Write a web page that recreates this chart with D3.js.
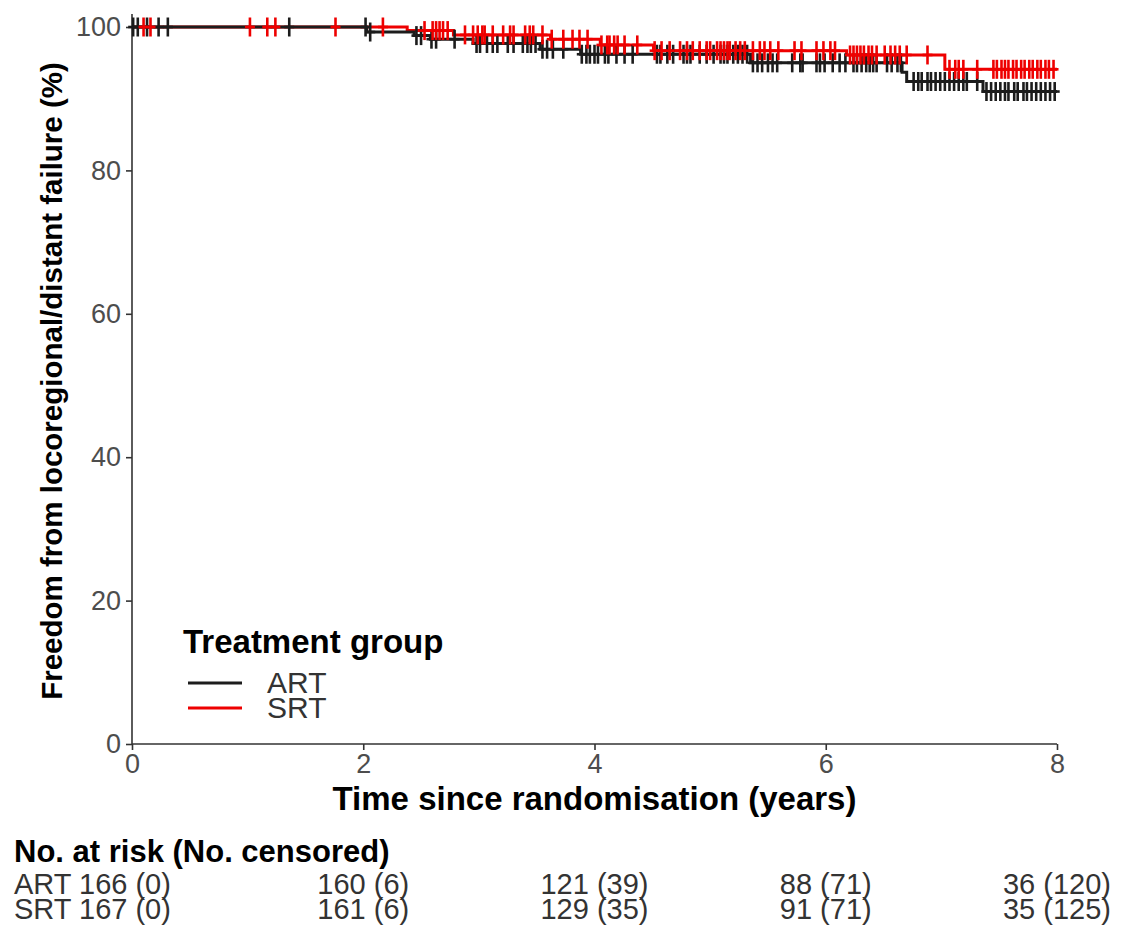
<!DOCTYPE html>
<html>
<head>
<meta charset="utf-8">
<script src="https://cdn.jsdelivr.net/npm/d3@7"></script>
<style>
  html, body { margin: 0; padding: 0; background: #ffffff; }
  svg { display: block; }
  text { font-family: "Liberation Sans", Arial, Helvetica, sans-serif; }
</style>
</head>
<body>
<svg id="chart" width="1121" height="938"></svg>
<script>
// Kaplan-Meier estimates: step times (years) and survival (%) after each step
const artTimes    = [0, 2.03, 2.44, 2.58, 2.95, 3.53, 3.88, 5.35, 6.66, 6.70, 7.36];
const artSurvival = [100, 99.3, 98.8, 98.3, 97.7, 96.9, 96.2, 95.0, 93.7, 92.4, 91.0];
const srtTimes    = [0, 2.38, 2.78, 3.62, 4.05, 4.51, 6.18, 7.03];
const srtSurvival = [100, 99.5, 98.9, 98.3, 97.5, 96.7, 96.1, 94.1];

// Censoring times (years)
const artCensored = [0.01, 0.05, 0.13, 0.23, 0.31, 1.36,
  2.02, 2.06, 2.46, 2.50, 2.59, 2.63, 2.79, 2.98, 3.01, 3.07, 3.12, 3.16, 3.25, 3.30,
  3.38, 3.42, 3.45, 3.49, 3.55, 3.59, 3.64, 3.73, 3.89, 3.93, 3.96,
  4.00, 4.03, 4.09, 4.12, 4.19, 4.26, 4.33, 4.54, 4.57, 4.63, 4.68, 4.77, 4.80, 4.83,
  4.91, 4.97, 5.03, 5.09, 5.12, 5.15, 5.20, 5.24, 5.28, 5.32, 5.37, 5.41, 5.45, 5.50,
  5.54, 5.58, 5.71, 5.78, 5.80, 5.92, 5.95, 5.99,
  6.06, 6.12, 6.17, 6.24, 6.27, 6.31, 6.35, 6.38, 6.41, 6.44, 6.53, 6.57, 6.62, 6.65,
  6.76, 6.80, 6.83, 6.88, 6.91, 6.95, 6.99, 7.03, 7.07, 7.11, 7.15, 7.19, 7.22, 7.31,
  7.39, 7.43, 7.47, 7.51, 7.55, 7.58, 7.63, 7.66, 7.71, 7.74, 7.78, 7.82, 7.86, 7.90,
  7.94, 7.98];
const srtCensored = [0.10, 0.16, 1.02, 1.17, 1.24, 1.76,
  2.17, 2.53, 2.60, 2.63, 2.66, 2.69, 2.73, 2.88, 2.95, 2.99, 3.03, 3.05, 3.12, 3.21,
  3.27, 3.30, 3.40, 3.44, 3.47, 3.55, 3.63, 3.73, 3.81, 3.87, 3.94,
  4.06, 4.11, 4.13, 4.17, 4.20, 4.26, 4.37, 4.52, 4.58, 4.65, 4.74, 4.80, 4.85, 4.91,
  4.97, 5.00, 5.06, 5.09, 5.12, 5.15, 5.17, 5.22, 5.26, 5.30, 5.37, 5.43, 5.47, 5.52,
  5.59, 5.73, 5.79, 5.92, 5.98, 6.04,
  6.08, 6.21, 6.24, 6.27, 6.30, 6.33, 6.37, 6.40, 6.44, 6.51, 6.56, 6.60, 6.64, 6.70,
  6.88, 7.07, 7.12, 7.15, 7.19, 7.31, 7.45, 7.48, 7.52, 7.55, 7.58, 7.62, 7.65, 7.69,
  7.72, 7.76, 7.79, 7.83, 7.86, 7.90, 7.93, 7.97];

// Axes
const xTicks = [0, 2, 4, 6, 8];
const yTicks = [0, 20, 40, 60, 80, 100];
const maxYears = 8;

// Legend and risk table
const groups = ["ART", "SRT"];
const groupColors = ["#1c1c1c", "#ee0000"];
const artAtRisk = [166, 160, 121, 88, 36];
const artCensCum = [0, 6, 39, 71, 120];
const srtAtRisk = [167, 161, 129, 91, 35];
const srtCensCum = [0, 6, 35, 71, 125];

const svg = d3.select("#chart");
const x = d3.scaleLinear().domain([0, maxYears]).range([132, 1057]);
const y = d3.scaleLinear().domain([0, 100]).range([744, 27]);

// Axis lines and ticks
const axisColor = "#333333";
const tickText = "#4d4d4d";
svg.append("line").attr("x1", x(0)).attr("x2", x(0)).attr("y1", 14).attr("y2", y(0))
  .attr("stroke", axisColor).attr("stroke-width", 1.6);
svg.append("line").attr("x1", x(0)).attr("x2", x(maxYears)).attr("y1", y(0)).attr("y2", y(0))
  .attr("stroke", axisColor).attr("stroke-width", 1.6);

const yAxis = d3.axisLeft(y).tickValues(yTicks).tickSize(6).tickPadding(5);
const gy = svg.append("g").attr("transform", `translate(${x(0)},0)`).call(yAxis);
gy.select(".domain").remove();
gy.selectAll("line").attr("stroke", axisColor).attr("stroke-width", 1.6);
gy.selectAll("text").attr("font-size", 27).attr("fill", tickText)
  .attr("font-family", "Liberation Sans, Arial, sans-serif");

const xAxis = d3.axisBottom(x).tickValues(xTicks).tickSize(6).tickPadding(4);
const gx = svg.append("g").attr("transform", `translate(0,${y(0)})`).call(xAxis);
gx.select(".domain").remove();
gx.selectAll("line").attr("stroke", axisColor).attr("stroke-width", 1.6);
gx.selectAll("text").attr("font-size", 27).attr("fill", tickText)
  .attr("font-family", "Liberation Sans, Arial, sans-serif");

// Axis titles
svg.append("text").attr("x", (x(0) + x(maxYears)) / 2).attr("y", 810)
  .attr("text-anchor", "middle").attr("font-size", 33).attr("font-weight", "bold")
  .attr("fill", "#000").text("Time since randomisation (years)");
svg.append("text").attr("transform", `translate(62,381) rotate(-90)`)
  .attr("text-anchor", "middle").attr("font-size", 29.5).attr("font-weight", "bold")
  .attr("fill", "#000").text("Freedom from locoregional/distant failure (%)");

// Step curves
function stepPoints(times, surv) {
  const pts = times.map((t, i) => [t, surv[i]]);
  pts.push([maxYears, surv[surv.length - 1]]);
  return pts;
}
function survivalAt(times, surv, t) {
  const i = d3.bisectRight(times, t) - 1;
  return surv[Math.max(0, i)];
}
const line = d3.line().x(d => x(d[0])).y(d => y(d[1])).curve(d3.curveStepAfter);

svg.append("path").datum(stepPoints(srtTimes, srtSurvival)).attr("d", line)
  .attr("fill", "none").attr("stroke", groupColors[1]).attr("stroke-width", 3);
svg.append("path").datum(stepPoints(artTimes, artSurvival)).attr("d", line)
  .attr("fill", "none").attr("stroke", groupColors[0]).attr("stroke-width", 3);

// Censoring marks ("+")
function drawCensors(cens, times, surv, color) {
  const g = svg.append("g").attr("stroke", color).attr("stroke-width", 2.6);
  cens.forEach(t => {
    const cx = x(t), cy = y(survivalAt(times, surv, t));
    g.append("line").attr("x1", cx).attr("x2", cx).attr("y1", cy - 9.5).attr("y2", cy + 9.5);
    g.append("line").attr("x1", cx - 5).attr("x2", cx + 5).attr("y1", cy).attr("y2", cy);
  });
}
drawCensors(artCensored, artTimes, artSurvival, groupColors[0]);
drawCensors(srtCensored, srtTimes, srtSurvival, groupColors[1]);

// Legend
svg.append("text").attr("x", 183).attr("y", 653).attr("font-size", 33)
  .attr("font-weight", "bold").attr("fill", "#000").text("Treatment group");
groups.forEach((gname, i) => {
  const ly = 683 + i * 25;
  svg.append("line").attr("x1", 188).attr("x2", 242).attr("y1", ly).attr("y2", ly)
    .attr("stroke", groupColors[i]).attr("stroke-width", 3);
  svg.append("text").attr("x", 267).attr("y", ly + 10).attr("font-size", 30)
    .attr("fill", "#333").text(gname);
});

// Numbers at risk
svg.append("text").attr("x", 14).attr("y", 862).attr("font-size", 31)
  .attr("font-weight", "bold").attr("fill", "#000").text("No. at risk (No. censored)");
const rows = [[artAtRisk, artCensCum], [srtAtRisk, srtCensCum]];
rows.forEach((r, gi) => {
  const ry = 894 + gi * 24.5;
  xTicks.forEach((t, k) => {
    const label = `${r[0][k]} (${r[1][k]})`;
    if (k === 0) {
      svg.append("text").attr("x", 14).attr("y", ry).attr("font-size", 29)
        .attr("fill", "#333").text(`${groups[gi]} ${label}`);
    } else {
      svg.append("text").attr("x", x(t)).attr("y", ry).attr("font-size", 29)
        .attr("text-anchor", "middle").attr("fill", "#333").text(label);
    }
  });
});
</script>
</body>
</html>
